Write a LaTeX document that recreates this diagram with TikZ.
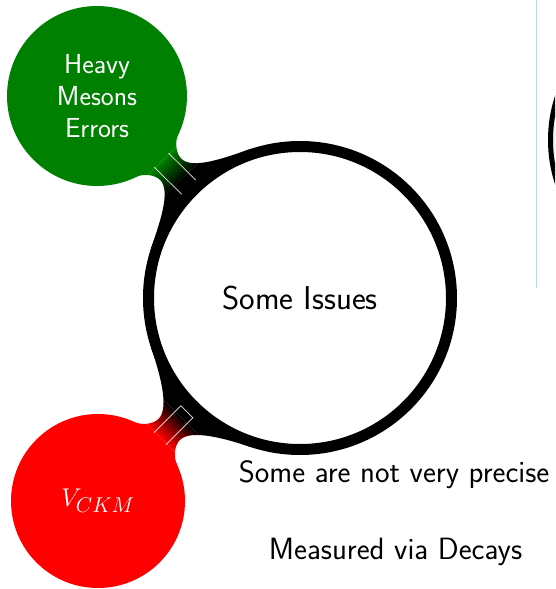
\documentclass[tikz,border=0pt]{standalone}
\usepackage{graphicx}
\usetikzlibrary{calc,backgrounds}
\definecolor{ggreen}{RGB}{0,128,0}
\definecolor{vline}{RGB}{178,218,234}
\makeatletter
\newcommand\nodedist[3]{%
  \pgfpointdiff{\pgfpointanchor{#2}{center}}{\pgfpointanchor{#3}{center}}%
  \pgfmathveclen{\pgf@x}{\pgf@y}\xdef#1{\pgfmathresult}}
\makeatother
\newcommand\barshape[2]{% #1 child radius shift, #2 distance
  (70,0) -- (70,30) -- ({84.6-#1},30)
  .. controls ({87.5-#1},22.5) and ({96-#1},15) .. ({104-#1},15)
  .. controls ({120-#1},15) and ({#2-151.7},47.6) .. ({#2-140.5},70)
  -- ({#2-128},70) -- ({#2-128},-70) -- ({#2-140.5},-70)
  .. controls ({#2-151.7},-47.6) and ({120-#1},-15) .. ({104-#1},-15)
  .. controls ({96-#1},-15) and ({87.5-#1},-22.5) .. ({84.6-#1},-30)
  -- (70,-30) -- cycle}
\begin{document}
\begin{tikzpicture}[x=1pt,y=1pt,
  rootconcept/.style={circle, draw=black, line width=11pt, fill=white,
    minimum size=303pt, inner sep=0pt,
    font=\sffamily\fontsize{33}{40}\selectfont},
  childconcept/.style={circle, draw=none, inner sep=0pt, text=white, align=center},
  plaintext/.style={anchor=base, inner sep=0pt,
    font=\sffamily\fontsize{30.8}{37}\selectfont},
  seam/.style={white, line width=0.7pt, opacity=0.9}
]
\useasboundingbox (0,0) rectangle (555,-589);
\begin{scope}
  \clip (0,0) rectangle (555,-589);
  \node[circle, draw=black, line width=5pt, fill=black!6, minimum size=279pt,
        inner sep=0pt] (side) at (690,-140) {};
\end{scope}
\coordinate (vtop) at (536,0);
\coordinate (vbot) at (536,-288);
\draw[vline, line width=1pt] (vtop) -- (vbot);

\node[rootconcept] (root) at (300,-298) {Some Issues};
\node[childconcept, fill=ggreen, minimum size=180pt,
      font=\sffamily\fontsize{27.5}{32}\selectfont] (heavy) at (97,-96)
      {Heavy\\Mesons\\Errors};
\node[childconcept, fill=red, minimum size=174pt,
      font=\fontsize{24.88}{30}\selectfont] (vckm) at (98,-501)
      {\scalebox{1.03}{$V_{CKM}$}};
\node[plaintext] (t1) at (394,-482) {Some are not very precise};
\node[plaintext] (t2) at (395.5,-559) {Measured via Decays};

\pgfmathanglebetweenpoints{\pgfpointanchor{heavy}{center}}{\pgfpointanchor{root}{center}}
\xdef\angG{\pgfmathresult}
\nodedist{\dG}{heavy}{root}
\pgfmathanglebetweenpoints{\pgfpointanchor{vckm}{center}}{\pgfpointanchor{root}{center}}
\xdef\angR{\pgfmathresult}
\nodedist{\dR}{vckm}{root}

\begin{pgfonlayer}{background}
  \begin{scope}[transform canvas={shift={(heavy.center)}, rotate=\angG}]
    \begin{scope}
      \clip \barshape{0}{\dG};
      \fill[ggreen] (60,-90) rectangle (92,90);
      \shade[left color=ggreen, right color=black] (92,-90) rectangle (119,90);
      \fill[black] (119,-90) rectangle (170,90);
    \end{scope}
    \draw[seam] (91,10) -- ({\dG-157},10);
    \draw[seam] (91,-10) -- ({\dG-157},-10);
  \end{scope}
  \begin{scope}[transform canvas={shift={(vckm.center)}, rotate=\angR}]
    \begin{scope}
      \clip \barshape{3}{\dR};
      \fill[red] (60,-90) rectangle (89,90);
      \shade[left color=red, right color=black] (89,-90) rectangle (118,90);
      \fill[black] (118,-90) rectangle (170,90);
    \end{scope}
    \draw[seam] (88,8.5) -- (126,8.5) -- (126,-8.5) -- (88,-8.5);
  \end{scope}
\end{pgfonlayer}
\end{tikzpicture}
\end{document}
